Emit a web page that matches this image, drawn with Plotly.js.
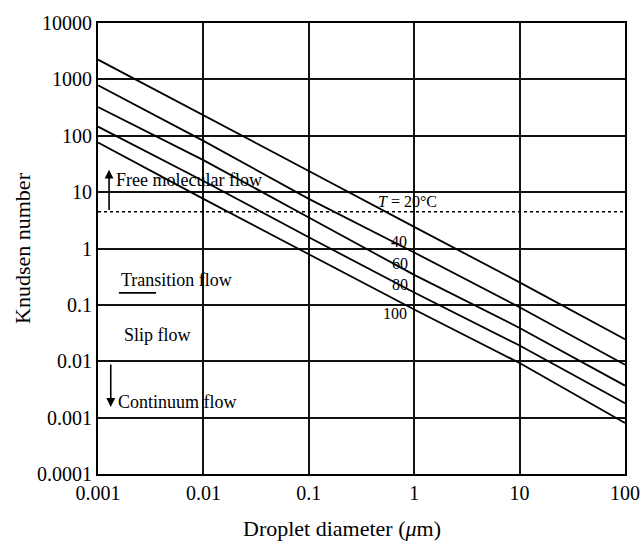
<!DOCTYPE html>
<html>
<head>
<meta charset="utf-8">
<script src="https://cdn.plot.ly/plotly-3.0.1.min.js"></script>
<style>html,body{margin:0;padding:0;background:#fff;}#chart{width:642px;height:542px;}</style>
</head>
<body>
<div id="chart"></div>
<script>
// Droplet diameters (µm) at which the curves were read
const diameters = [0.001, 0.01, 0.1, 1, 10, 100];
// Knudsen number per temperature
const kn20 = [2240, 234, 23.7, 2.42, 0.251, 0.0245];
const kn40 = [785, 81, 7.6, 0.85, 0.091, 0.0087];
const kn60 = [324, 37, 3.55, 0.34, 0.039, 0.0037];
const kn80 = [145, 15.8, 1.58, 0.166, 0.019, 0.0018];
const kn100 = [76, 7.6, 0.79, 0.083, 0.0093, 0.0008];
// Free-molecular boundary (dotted line)
const boundaryX = [0.001, 100];
const boundaryKn = [4.5, 4.5];
// Tick labels
const xTicks = [0.001, 0.01, 0.1, 1, 10, 100];
const xTickText = ['0.001', '0.01', '0.1', '1', '10', '100'];
const yTicks = [0.0001, 0.001, 0.01, 0.1, 1, 10, 100, 1000, 10000];
const yTickText = ['0.0001', '0.001', '0.01', '0.1', '1', '10', '100', '1000', '10000'];

const FONT = 'Liberation Serif, DejaVu Serif, serif';
const lineStyle = {color: '#000', width: 1.8};
const mk = (y, name) => ({x: diameters, y: y, name: name, mode: 'lines', line: lineStyle, showlegend: false, hoverinfo: 'skip'});

const traces = [
  mk(kn20, 'T=20°C'), mk(kn40, '40'), mk(kn60, '60'), mk(kn80, '80'), mk(kn100, '100'),
  {x: boundaryX, y: boundaryKn, mode: 'lines', line: {color: '#000', width: 1.4, dash: '3px,3px'}, showlegend: false, hoverinfo: 'skip'}
];

const ann = (x, y, text, size, anchor) => ({x: x, y: y, xref: 'x', yref: 'y', text: text, showarrow: false,
  xanchor: anchor || 'center', yanchor: 'middle', font: {family: FONT, size: size, color: '#000'}});
const arrow = (x, yHead, yTail) => ({x: x, y: yHead, ax: x, ay: yTail, xref: 'x', yref: 'y', axref: 'x', ayref: 'y',
  text: '', showarrow: true, arrowhead: 2, arrowsize: 1.1, arrowwidth: 1.6, arrowcolor: '#000'});

const annotations = [
  ann(-2.845, 1.219, 'Free molecular flow', 18, 'left'),
  ann(-2.805, -0.556, 'Transition flow', 18, 'left'),
  ann(-2.768, -1.532, 'Slip flow', 18, 'left'),
  ann(-2.825, -2.72, 'Continuum flow', 18, 'left'),
  ann(-0.06, 0.83, '<i>T</i> = 20°C', 16),
  ann(-0.143, 0.124, '40', 16),
  ann(-0.133, -0.272, '60', 16),
  ann(-0.133, -0.645, '80', 16),
  ann(-0.181, -1.16, '100', 16),
  arrow(-2.895, 1.396, 0.656),
  arrow(-2.879, -2.81, -2.03),
  // x-axis title (placed off-centre as in the original figure)
  {x: 0.463, y: -0.12, xref: 'paper', yref: 'paper', xanchor: 'center', yanchor: 'middle', showarrow: false,
   text: 'Droplet diameter (<i>μ</i>m)', font: {family: FONT, size: 22, color: '#000'}}
];

// underline below "Transition flow" (shape positions on log axes are in data units)
const shapes = [
  {type: 'line', xref: 'x', yref: 'y', x0: 0.00158, x1: 0.00356, y0: 0.163, y1: 0.163, line: {color: '#000', width: 1.6}}
];

const axisCommon = {
  type: 'log', showgrid: true, gridcolor: '#111', gridwidth: 2,
  showline: true, mirror: true, linecolor: '#000', linewidth: 2,
  ticks: '', tickmode: 'array', zeroline: false,
  tickfont: {family: FONT, size: 20, color: '#000'}
};

const layout = {
  width: 642, height: 542,
  margin: {l: 98, r: 17, t: 23, b: 68},
  paper_bgcolor: '#fff', plot_bgcolor: '#fff',
  font: {family: FONT, color: '#000'},
  xaxis: Object.assign({}, axisCommon, {range: [-3, 2], tickvals: xTicks, ticktext: xTickText}),
  yaxis: Object.assign({}, axisCommon, {range: [-4, 4], tickvals: yTicks, ticktext: yTickText,
    title: {text: 'Knudsen number', font: {family: FONT, size: 22, color: '#000'}, standoff: 0}}),
  annotations: annotations,
  shapes: shapes,
  showlegend: false
};

Plotly.newPlot('chart', traces, layout, {displayModeBar: false, staticPlot: true});
</script>
</body>
</html>
